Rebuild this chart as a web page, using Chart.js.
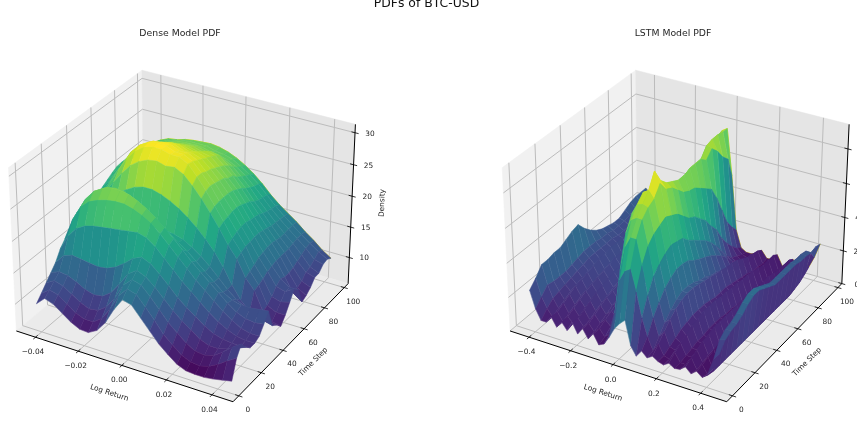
<!DOCTYPE html>
<html>
<head>
<meta charset="utf-8">
<script src="https://cdn.jsdelivr.net/npm/chart.js@4"></script>
<style>
  body { margin: 0; background: #fff; overflow: hidden; width: 857px; height: 423px; position: relative; }
  canvas { position: absolute; top: 0; }
  #suptitle { position: absolute; left: -2px; width: 857px; top: -5px; text-align: center; font: 12.4px "DejaVu Sans"; color: #111; z-index: 2; }
</style>
</head>
<body>
<div id="suptitle">PDFs of BTC-USD</div>
<canvas id="chartDense" width="428" height="423" style="left:0"></canvas>
<canvas id="chartLstm" width="429" height="423" style="left:428px"></canvas>
<script>
// DENSE MODEL PDF
const denseReturns = [-0.042,-0.038,-0.034,-0.030,-0.026,-0.022,-0.018,-0.014,-0.010,-0.006,-0.002,0.002,0.006,0.010,0.014,0.018,0.022,0.026,0.030,0.034,0.038,0.042,0.046];
const denseSteps = [0,4,8,12,16,20,24,28,32,36,40,44,48,52,56,60,64,68,72,76,80,84,88,92];
const densePdf = [
  [10,11.3,10.8,9.8,8.8,8.1,8,8.8,10.5,13,15,14.6,13,11.4,9.8,8.6,7.5,6.9,6.8,6.8,7,7.3,7.6],
  [11,12,11.6,10.6,9.6,9,9,10,12,14.5,16,15.6,14,12.4,10.6,9.4,8.2,7.6,7.4,7.8,8.6,9.6,10.5],
  [12,12.8,12.4,11.5,10.6,10,10.2,11.2,13,15.5,16.8,16.4,15,13.4,11.8,10.6,9.4,8.6,8.4,8.8,9.8,11,12],
  [13,13.6,13.4,12.8,12,11.6,11.8,12.8,14.6,16.6,17.6,17,15.8,14.4,13,11.8,10.8,9.8,9.2,9.2,9.6,10.2,10.8],
  [14,15.5,16,15.8,15.6,15.4,15.6,16.2,17.2,18.4,19,18.4,17.2,15.8,14.4,13.2,12.2,11.2,10.4,10,9.8,9.8,10],
  [15.5,18,19.6,20.4,20.8,21,21.2,21.4,21.6,21.8,21.4,20.4,19,17.6,16.2,15,13.8,12.6,11.6,10.8,10.2,10,10],
  [16.5,20,22.4,23.6,24.2,24.6,24.8,24.8,24.4,23.8,23,21.8,20.4,19,17.6,16.2,15,13.8,12.6,11.6,10.8,10.4,10.4],
  [17,20.6,23,24.6,25.4,25.8,25.8,25.6,25,24.2,23.2,22,20.8,19.4,18,16.8,15.6,14.4,13.2,12.2,11.6,11.4,11.6],
  [17.5,20.4,22.8,24.2,25,25.2,25,24.4,23.6,22.6,21.6,20.6,19.6,18.6,17.4,16.2,15,13.8,13,12.6,12.6,12.8,13],
  [18,19.6,20.8,21.2,21,20.6,20.2,20,20,20,20,19.8,19.4,18.6,17.6,16.4,15,13.6,12.4,11.6,11,10.4,10],
  [18,19.4,20.6,21.8,22.8,23.8,24.6,25,25,24.6,24,23.2,22.2,21,19.6,18,16,13.6,11.6,10.2,9.6,9.4,9.4],
  [18.5,20,21.8,23.6,25.4,27,28,28.6,28.8,28.4,28.6,27.9,26.5,24.9,23.1,21.1,18.9,17.1,14.5,12.9,10,8.8,8.5],
  [19,20.6,22.6,24.8,27,28.6,29.6,30,30,29.6,29.6,28.9,27.3,25.5,23.5,21.5,19.3,17.5,14.9,13.1,10.3,9.6,9.6],
  [19.5,21,23.2,25.4,27.6,29,29.8,30,30,29.4,29.4,28.7,27.3,25.7,23.7,21.7,19.7,17.8,15.3,13.5,11,10.6,11],
  [20,21.6,23.6,25.6,27.4,28.6,29.4,29.6,29.6,29,29,28.3,26.9,25.5,23.7,21.9,19.9,17.9,15.8,14,12,11.6,12.5],
  [20.5,22,23.6,25.2,26.8,28,28.6,29,29,28.4,28.4,27.9,26.7,25.3,23.7,21.9,19.9,18,16,14.2,12.6,11.6,11.7],
  [21,22.2,23.6,25,26.2,27.2,28,28.4,28.4,27.8,28,27.5,26.3,25.1,23.5,21.7,19.7,18,16.2,14.4,12.2,10,9],
  [21.4,22.4,23.6,24.8,25.8,26.6,27.2,27.6,27.6,27.2,27.4,27.1,25.9,24.5,23.1,21.3,19.5,17.8,16.2,14.4,12.2,10.2,9.4],
  [21.5,22.6,23.6,24.6,25.4,26.2,26.8,27,27,26.6,27,26.7,25.5,24.3,22.7,21,19.3,17.6,16,14.4,12.4,10.6,10],
  [21.5,22.6,23.6,24.6,25.2,25.8,26.2,26.4,26.4,26,26.4,26.1,24.9,23.5,22.1,20.4,18.9,17.3,15.8,14.4,12.8,11.4,11],
  [21.4,22.6,23.4,24.2,24.8,25.4,25.6,25.8,25.8,25.4,25.4,25,24.2,23,21.6,20,18.6,17.2,15.8,14.6,13.2,11.6,11],
  [21.4,22.4,23.2,24,24.6,25,25.2,25.2,25.2,24.8,24.6,24.2,23.5,22.5,21.2,19.8,18.4,17.1,15.9,14.8,13.6,12.2,11.8],
  [21.4,22.4,23.2,23.8,24.2,24.6,24.8,24.8,24.8,24.4,24.2,23.8,23,22.1,21,19.6,18.2,17,15.9,14.8,13.8,12.8,12],
  [21.3,22.2,23,23.6,23.8,24.2,24.4,24.5,24.6,24.4,24,23.4,22.6,21.6,20.4,19,17.8,16.8,15.8,14.6,13.6,12.4,11.5]
];

// LSTM MODEL PDF
const lstmReturns = [-0.42,-0.395,-0.37,-0.345,-0.32,-0.295,-0.27,-0.245,-0.22,-0.195,-0.17,-0.145,-0.12,-0.095,-0.07,-0.045,-0.02,0.005,0.03,0.055,0.08,0.105,0.13,0.155,0.18,0.205,0.23,0.255,0.28,0.305,0.33,0.355,0.38,0.405,0.43];
const lstmSteps = [0,5,10,15,20,25,30,35,40,45,50,55,60,65,70,75,80,85,90,95,99];
const lstmPdf = [
  [24,14,8,8,12,7,11,7,13,7,11,6,10,4.5,6,11,17,21,24,10,5,9,6,8,6,5,7,5,5.5,8,5,7.5,5,8,12],
  [28,18,12,8,12,7,11,8,12,8,11,7,10,6,9,22,42,48,50,38,24,14,7,12,6,5,10,5,5,10,4,8,3,13,17],
  [33,22,15,10,14,9,13,9,14,9,13,9,12,9,20,44,58,64,64,50,34,22,12,16,8,7,12,6,6,11,5,9,2,21,22],
  [33,21,16,12,16,11,15,11,16,11,15,11,14,11,44,62,70,72,72,58,42,28,17,20,10,8,14,7,7,13,6,10,2,24,24],
  [34,21,17,14,18,13,17,13,18,13,17,13,16,13,40,70,76,77,76,62,46,33,21,23,12,9,16,8,7,14,6,11,2,25,25],
  [34,21,18,15,19,14,18,14,19,14,18,14,17,14,32,66,80,82,78,64,49,36,24,25,13,10,17,8,8,15,6,11,2,27,27],
  [36,22,19,16,20,15,19,15,20,16,19,15,18,15,30,62,78,90,84,66,51,38,26,26,14,11,18,9,8,15,7,12,2,30,30],
  [38,23,20,17,21,16,20,16,21,17,20,16,18,16,28,58,76,82,78,64,50,38,26,26,14,11,18,9,8,15,7,12,2,32,32],
  [39,24,21,18,22,17,21,17,22,18,21,17,19,17,28,54,72,78,76,62,49,37,25,25,14,11,18,9,8,15,7,12,2,32,32],
  [34,24,21,18,22,18,22,18,22,18,21,18,20,18,28,52,72,76,72,58,45,34,23,24,13,10,17,8,8,15,7,12,2,30,30],
  [30,24,21,19,23,18,22,18,23,19,22,19,21,19,30,52,70,74,68,54,42,32,22,23,12,10,17,8,7,15,6,11,2,28,28],
  [27,23,21,19,23,18,22,18,23,19,22,19,21,20,30,52,70,74,66,52,39,30,20,22,12,9,16,7,7,15,6,11,2,26,26],
  [25,23,21,19,23,18,22,19,23,19,22,19,21,20,31,54,70,75,65,48,36,28,19,21,12,9,16,7,7,14,6,11,2,26,26],
  [24,22,20,19,22,18,22,19,23,19,22,19,21,21,32,56,72,75,62,44,32,25,17,20,11,9,15,7,7,14,6,11,2,26,26],
  [23,22,20,19,22,18,21,19,22,19,22,20,22,22,34,58,72,75,59,38,27,22,15,19,10,8,15,6,6,14,5,11,2,26,26],
  [23,22,20,19,21,18,21,19,22,19,22,20,23,25,40,60,72,72,56,33,21,18,12,18,9,7,14,6,6,14,5,11,2,26,26],
  [25,23,20,19,21,18,21,19,22,20,23,22,26,32,50,68,77,76,48,25,15,13,9,16,8,7,13,5,5,13,5,11,2,25,25],
  [27,24,21,19,21,18,21,19,23,21,24,24,30,38,56,72,78,72,38,19,11,9,7,14,6,6,12,4,4,12,4,12,3,25,25],
  [28,25,21,19,21,18,21,20,23,22,25,26,32,42,60,74,78,66,28,14,9,7,6,13,6,5,12,4,4,12,5,12,4,24,24],
  [28,25,21,19,21,18,22,20,24,23,26,28,34,46,62,74,77,62,22,10,7,6,6,12,5,5,12,4,4,12,4,13,6,20,25],
  [28,25,21,19,21,18,22,20,24,24,27,30,36,48,64,75,77,50,18,8,6,6,7,10,6,6,10,4,4,10,5,13,8,15,24]
];

// ticks
const denseXTicks = [-0.04,-0.02,0,0.02,0.04];
const denseXLabels = ['−0.04','−0.02','0.00','0.02','0.04'];
const lstmXTicks = [-0.4,-0.2,0,0.2,0.4];
const lstmXLabels = ['−0.4','−0.2','0.0','0.2','0.4'];
const stepTicks = [0,20,40,60,80,100];
const denseZTicks = [10,15,20,25,30];
const lstmZTicks = [0,20,40,60,80];

const viridis = ['#440154','#482475','#414487','#355f8d','#2a788e','#21918c','#22a884','#44bf70','#7ad151','#bddf26','#fde725'];

// same view as the default 3d axes: elev 30, azim -60, box 4:4:3
const BOX = [1.1905, 1.1905, 0.8929];
const ZOOM = 2085;

function project(xn, yn, zn) {
  const px = (xn - .5) * BOX[0], py = (yn - .5) * BOX[1], pz = (zn - .5) * BOX[2];
  const d = 10 - (.433 * px - .75 * py + .5 * pz);
  return { x: (.866 * px + .5 * py) / d, y: (-.25 * px + .433 * py + .866 * pz) / d };
}

function viridisColor(t) {
  t = Math.max(0, Math.min(1, t)) * (viridis.length - 1);
  const i = Math.min(Math.floor(t), viridis.length - 2), f = t - i;
  const a = viridis[i], b = viridis[i + 1];
  const ch = k => {
    const u = parseInt(a.substr(k, 2), 16), v = parseInt(b.substr(k, 2), 16);
    return Math.round(u + (v - u) * f);
  };
  return 'rgb(' + ch(1) + ',' + ch(3) + ',' + ch(5) + ')';
}

function poly(pts, color) {
  return { data: pts.concat([pts[0]]), showLine: true, fill: 'shape', backgroundColor: color, borderColor: color, borderWidth: 0.5, pointRadius: 0, tension: 0 };
}
function line(pts, color, width) {
  return { data: pts, showLine: true, fill: false, borderColor: color, borderWidth: width, pointRadius: 0, tension: 0 };
}

function buildPanel(canvasId, cfg) {
  const nx = v => (v - cfg.xlim[0]) / (cfg.xlim[1] - cfg.xlim[0]);
  const ny = v => (v - cfg.ylim[0]) / (cfg.ylim[1] - cfg.ylim[0]);
  const nz = v => (v - cfg.zlim[0]) / (cfg.zlim[1] - cfg.zlim[0]);
  const sets = [];

  // panes
  sets.push(poly([project(0,0,0), project(0,1,0), project(0,1,1), project(0,0,1)], '#f1f1f1'));
  sets.push(poly([project(0,1,0), project(1,1,0), project(1,1,1), project(0,1,1)], '#e5e5e5'));
  sets.push(poly([project(0,0,0), project(1,0,0), project(1,1,0), project(0,1,0)], '#ebebeb'));

  // grid
  const grid = '#bcbcbc';
  cfg.xTicks.forEach(v => sets.push(line([project(nx(v),0,0), project(nx(v),1,0), project(nx(v),1,1)], grid, 1)));
  stepTicks.forEach(v => sets.push(line([project(1,ny(v),0), project(0,ny(v),0), project(0,ny(v),1)], grid, 1)));
  cfg.zTicks.forEach(v => sets.push(line([project(0,0,nz(v)), project(0,1,nz(v)), project(1,1,nz(v))], grid, 1)));

  // axis lines and tick marks
  sets.push(line([project(0,0,0), project(1,0,0)], '#000', 1));
  sets.push(line([project(1,0,0), project(1,1,0)], '#000', 1));
  sets.push(line([project(1,1,0), project(1,1,1)], '#000', 1));
  cfg.xTicks.forEach(v => sets.push(line([project(nx(v),-.016,0), project(nx(v),.016,0)], '#000', 0.8)));
  stepTicks.forEach(v => sets.push(line([project(.984,ny(v),0), project(1.016,ny(v),0)], '#000', 0.8)));
  cfg.zTicks.forEach(v => sets.push(line([project(.984,1,nz(v)), project(1.016,1,nz(v))], '#000', 0.8)));

  // the furthest row has a yellow rim
  const rim = cfg.returns.map((x, j) => project(nx(x), ny(cfg.steps[cfg.steps.length - 1]), nz(cfg.pdf[cfg.pdf.length - 1][j])));
  sets.push(line(rim, '#fde725', 1));

  // surface, back to front
  for (let i = cfg.steps.length - 2; i >= 0; i--) {
    for (let j = 0; j < cfg.returns.length - 1; j++) {
      const zs = [cfg.pdf[i][j], cfg.pdf[i][j + 1], cfg.pdf[i + 1][j + 1], cfg.pdf[i + 1][j]];
      const mean = (zs[0] + zs[1] + zs[2] + zs[3]) / 4;
      sets.push(poly([
        project(nx(cfg.returns[j]), ny(cfg.steps[i]), nz(zs[0])),
        project(nx(cfg.returns[j + 1]), ny(cfg.steps[i]), nz(zs[1])),
        project(nx(cfg.returns[j + 1]), ny(cfg.steps[i + 1]), nz(zs[2])),
        project(nx(cfg.returns[j]), ny(cfg.steps[i + 1]), nz(zs[3]))
      ], viridisColor((mean - cfg.vmin) / (cfg.vmax - cfg.vmin))));
    }
    // faint light stripe along each row
    const rowLine = cfg.returns.map((x, j) => project(nx(x), ny(cfg.steps[i]), nz(cfg.pdf[i][j])));
    sets.push(line(rowLine, 'rgba(255,255,255,0.14)', 0.7));
  }

  const w = document.getElementById(canvasId).width;
  const panelText = {
    id: 'panelText',
    afterDraw(chart) {
      const ctx = chart.ctx, sx = chart.scales.x, sy = chart.scales.y;
      const px = p => ({ x: sx.getPixelForValue(p.x), y: sy.getPixelForValue(p.y) });
      const put = (text, x, y, size, rot) => {
        ctx.save();
        ctx.translate(x, y);
        ctx.rotate((rot || 0) * Math.PI / 180);
        ctx.font = size + 'px "DejaVu Sans"';
        ctx.fillStyle = '#262626';
        ctx.textAlign = 'center';
        ctx.textBaseline = 'middle';
        ctx.fillText(text, 0, 0);
        ctx.restore();
      };
      put(cfg.title, cfg.titleX, 34, 9.3);
      cfg.xTicks.forEach((v, k) => { const p = px(project(nx(v), 0, 0)); put(cfg.xLabels[k], p.x - 2.5, p.y + 15, 7.4); });
      stepTicks.forEach(v => { const p = px(project(1, ny(v), 0)); put(String(v), p.x + 9, p.y + 14, 7.4); });
      cfg.zTicks.forEach(v => { const p = px(project(1, 1, nz(v))); put(String(v), p.x + 15, p.y + 1, 7.4); });
      put('Log Return', cfg.center - 76, 393, 7.4, 18);
      put('Time Step', cfg.center + 128, 362, 7.4, -45);
      put('Density', cfg.center + 197, 203, 7.4, -88);
    }
  };

  new Chart(document.getElementById(canvasId), {
    type: 'scatter',
    data: { datasets: sets.reverse() },
    options: {
      responsive: false,
      animation: false,
      events: [],
      layout: { padding: 0 },
      plugins: { legend: { display: false }, tooltip: { enabled: false } },
      scales: {
        x: { type: 'linear', display: false, min: -cfg.center / ZOOM, max: (w - cfg.center) / ZOOM },
        y: { type: 'linear', display: false, min: -(423 - 228) / ZOOM, max: 228 / ZOOM }
      }
    },
    plugins: [panelText]
  });
}

buildPanel('chartDense', {
  title: 'Dense Model PDF', center: 185.3, titleX: 180,
  returns: denseReturns, steps: denseSteps, pdf: densePdf,
  xlim: [-0.0491, 0.0491], ylim: [-5, 104], zlim: [5.65, 31.3], vmin: 6.5, vmax: 30,
  xTicks: denseXTicks, xLabels: denseXLabels, zTicks: denseZTicks
});
buildPanel('chartLstm', {
  title: 'LSTM Model PDF', center: 251, titleX: 245,
  returns: lstmReturns, steps: lstmSteps, pdf: lstmPdf,
  xlim: [-0.493, 0.516], ylim: [-5, 104], zlim: [0, 94], vmin: 1, vmax: 88,
  xTicks: lstmXTicks, xLabels: lstmXLabels, zTicks: lstmZTicks
});
</script>
</body>
</html>
